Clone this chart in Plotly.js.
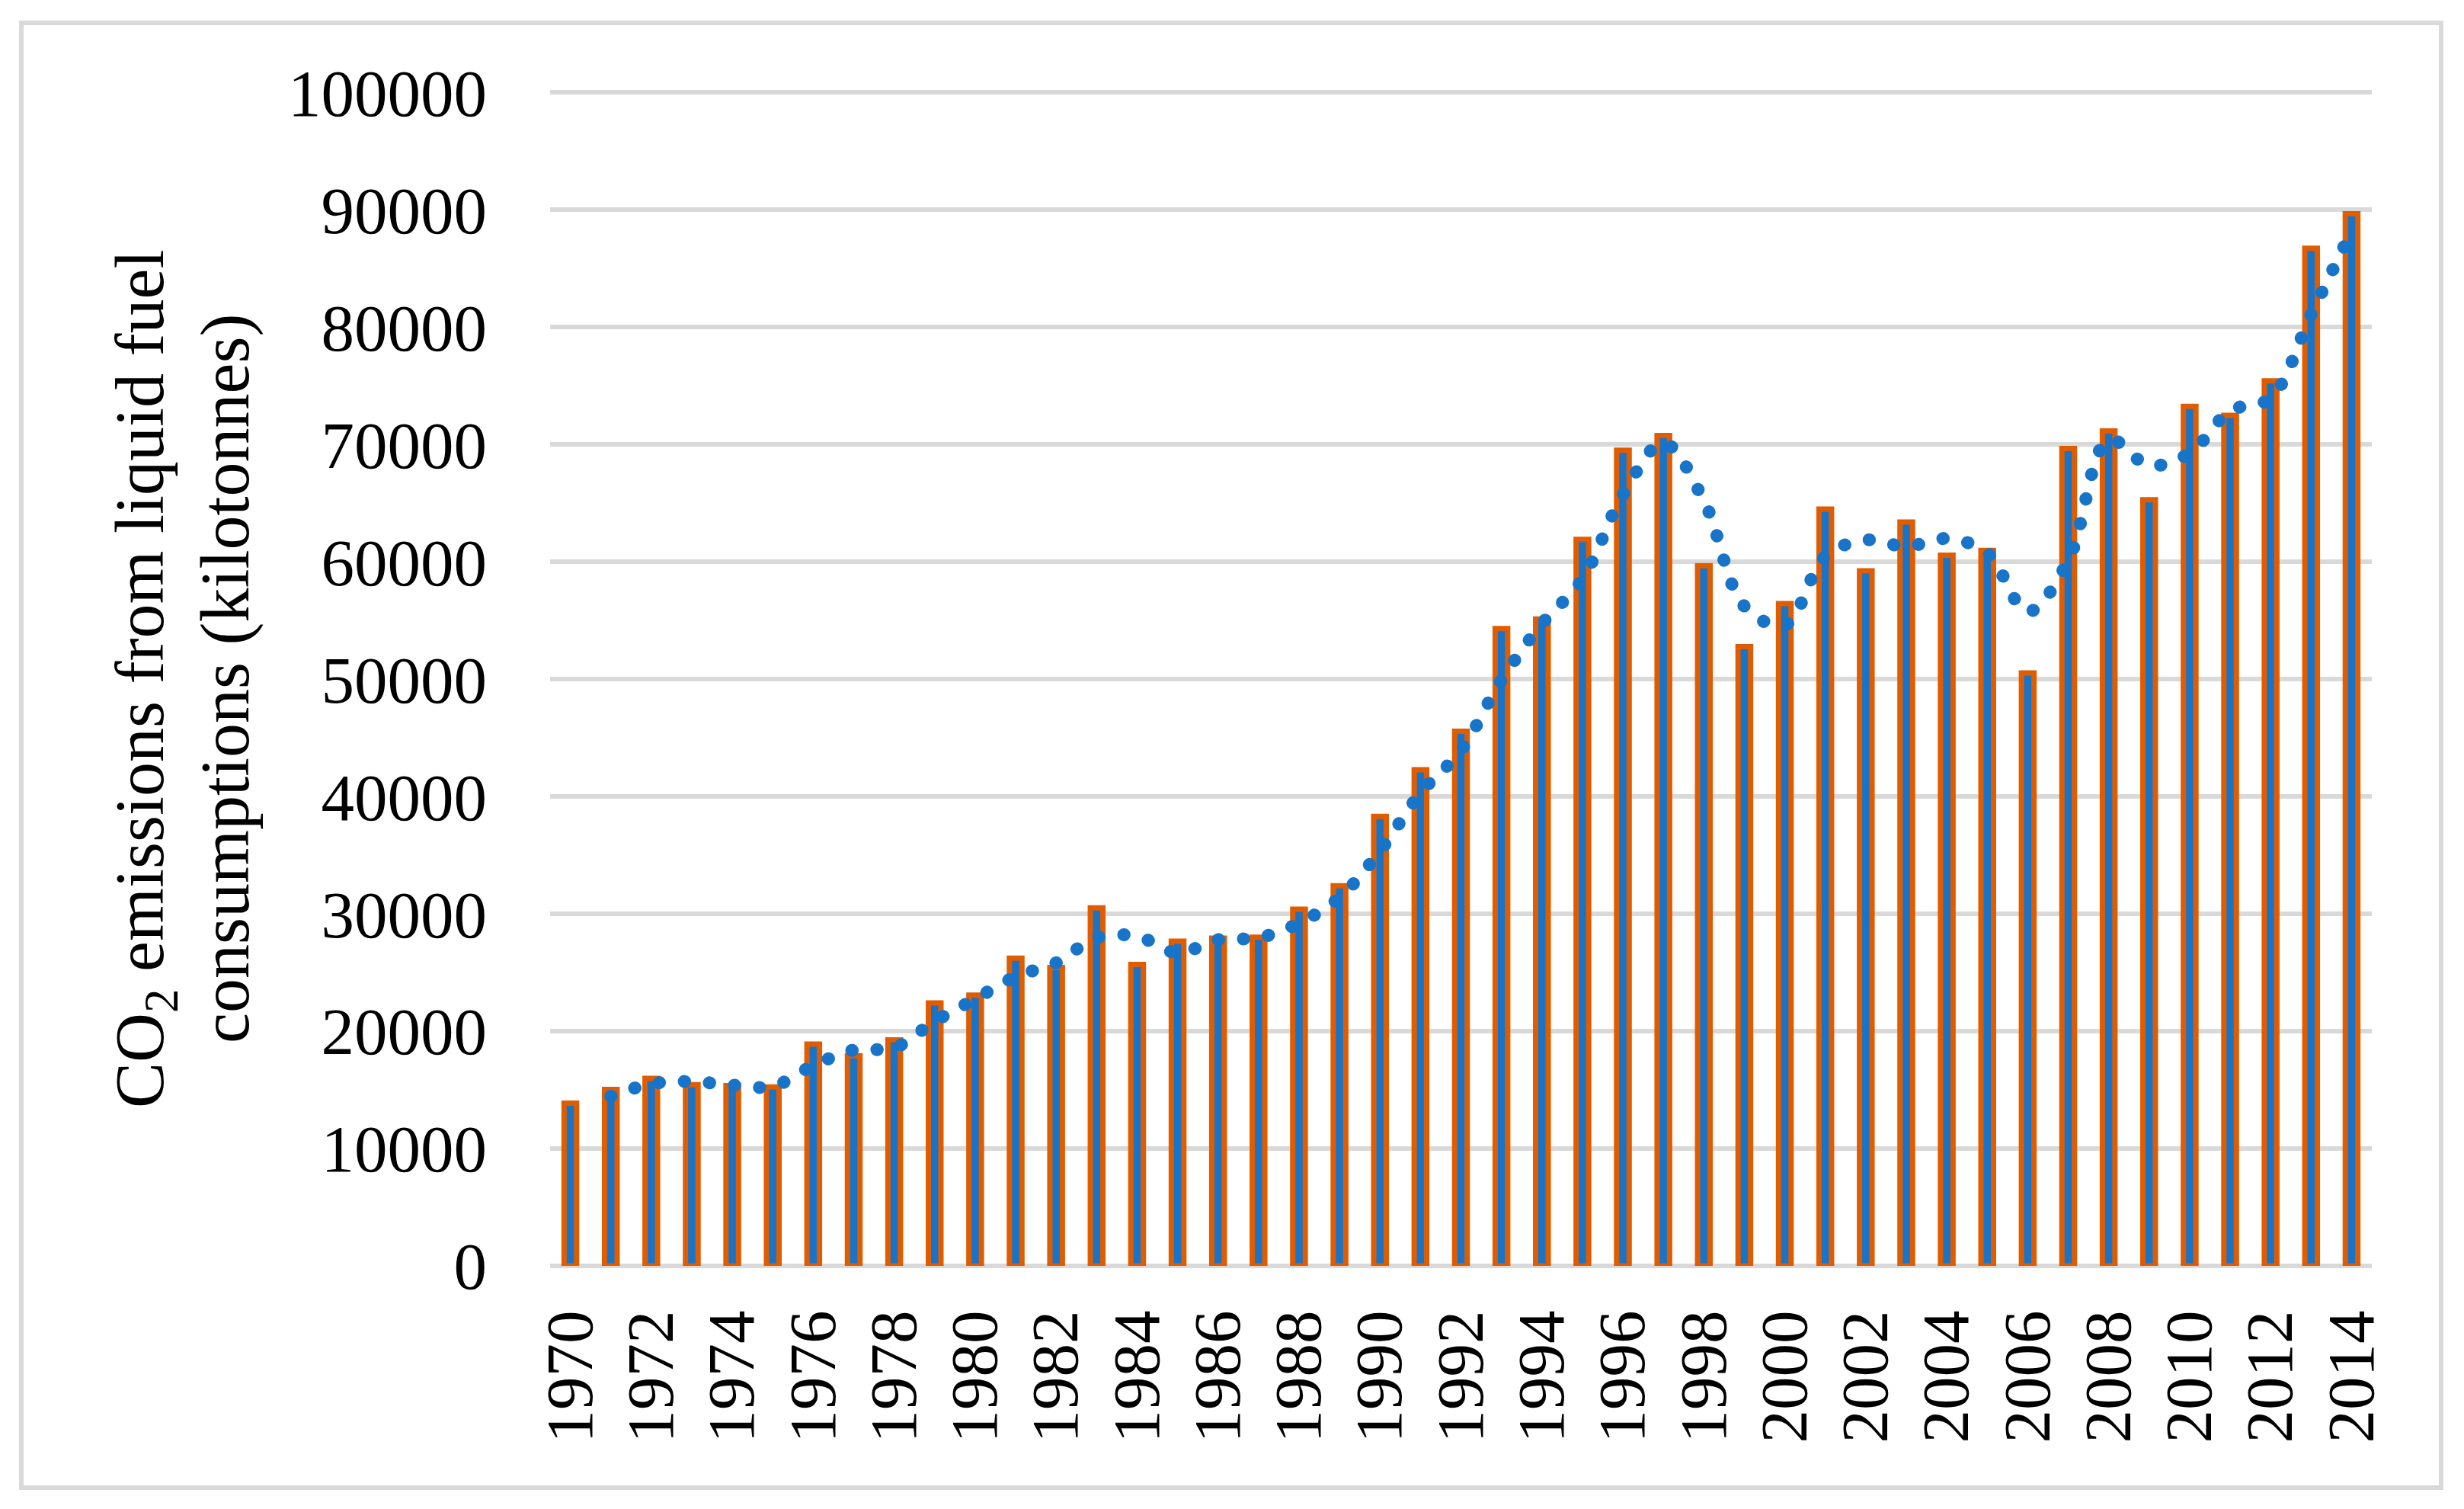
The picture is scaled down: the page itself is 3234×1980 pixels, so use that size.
<!DOCTYPE html>
<html>
<head>
<meta charset="utf-8">
<script src="https://cdn.plot.ly/plotly-3.0.1.min.js"></script>
<style>
  html, body { margin: 0; padding: 0; background: #ffffff; }
  #chart { width: 3234px; height: 1980px; }
  .js-line { stroke-linecap: round !important; }
</style>
</head>
<body>
<div id="chart"></div>
<script>
// Years (categories)
const years = [1970,1971,1972,1973,1974,1975,1976,1977,1978,1979,
               1980,1981,1982,1983,1984,1985,1986,1987,1988,1989,
               1990,1991,1992,1993,1994,1995,1996,1997,1998,1999,
               2000,2001,2002,2003,2004,2005,2006,2007,2008,2009,
               2010,2011,2012,2013,2014];

// CO2 emissions from liquid fuel consumption (kt)
const emissions = [13870,15040,15980,15440,15360,15240,18890,17900,19260,22400,
                   23070,26220,25420,30500,25680,27670,27920,28000,30400,32390,
                   38300,42280,45550,54300,55120,61900,69500,70750,59670,52760,
                   56440,64490,59220,63390,60560,60960,50530,69650,71140,65280,
                   73230,72480,75420,86710,89650];

// Dotted trend line (2-period moving average), starts 1971
const trendYears = [1971,1972,1973,1974,1975,1976,1977,1978,1979,
                    1980,1981,1982,1983,1984,1985,1986,1987,1988,1989,
                    1990,1991,1992,1993,1994,1995,1996,1997,1998,1999,
                    2000,2001,2002,2003,2004,2005,2006,2007,2008,2009,
                    2010,2011,2012,2013,2014];
const trendValues = [14455,15510,15710,15400,15300,17065,18395,18580,20830,
                     22735,24645,25820,27960,28090,26675,27795,27960,29200,31395,
                     35345,40290,43915,49925,54710,58510,65700,70125,65210,56215,
                     54600,60465,61855,61305,61975,60760,55745,60090,70395,68210,
                     69255,72855,73950,81065,88180];

const yTickVals = [0,10000,20000,30000,40000,50000,60000,70000,80000,90000,100000];
const yTitleLines = ['CO<sub>2</sub> emissions from liquid fuel', 'consumptions (kilotonnes)'];

const W = 3234, H = 1980;
const M = { l: 722, r: 121, t: 115, b: 319 };
const pw = W - M.l - M.r, ph = H - M.t - M.b;
// frame around the whole chart, in pixels
const frame = { x0: 28, x1: 3204, y0: 30, y1: 1952 };
// y title line centres, in pixels from the left edge
const titleX = [190, 296];
const titleY = 891;

const FONT = '"Liberation Serif", "Times New Roman", serif';
const px2paperX = p => (p - M.l) / pw;
const px2paperY = p => (H - M.b - p) / ph;

const bars = {
  type: 'bar',
  x: years,
  y: emissions,
  width: 0.31,
  marker: { color: '#1874C9', line: { color: '#E05C00', width: 7 } },
  hoverinfo: 'x+y',
  showlegend: false
};

const trend = {
  type: 'scatter',
  mode: 'lines',
  x: trendYears,
  y: trendValues,
  line: { color: '#1874C9', width: 17, dash: '0.5px,32.5px', shape: 'spline', smoothing: 1 },
  hoverinfo: 'skip',
  showlegend: false
};

const layout = {
  width: W,
  height: H,
  margin: M,
  paper_bgcolor: '#ffffff',
  plot_bgcolor: '#ffffff',
  font: { family: FONT, color: '#000000', size: 87 },
  showlegend: false,
  xaxis: {
    type: 'linear',
    range: [1969.5, 2014.5],
    tick0: 1970,
    dtick: 2,
    tickangle: -90,
    showgrid: false,
    zeroline: false,
    showline: false,
    ticks: '',
    ticklabelstandoff: 40,
    tickfont: { family: FONT, size: 87, color: '#000000' },
    automargin: false,
    fixedrange: true
  },
  yaxis: {
    range: [0, 100400],
    tickmode: 'array',
    tickvals: yTickVals,
    ticktext: yTickVals.map(String),
    showgrid: true,
    gridcolor: '#D9D9D9',
    gridwidth: 6.5,
    zeroline: true,
    zerolinecolor: '#D9D9D9',
    zerolinewidth: 6.5,
    showline: false,
    ticks: '',
    ticklabelstandoff: 82,
    tickfont: { family: FONT, size: 87, color: '#000000' },
    automargin: false,
    fixedrange: true
  },
  annotations: yTitleLines.map((t, i) => ({
    text: t,
    xref: 'paper', yref: 'paper',
    x: px2paperX(titleX[i]),
    y: px2paperY(titleY),
    xanchor: 'center', yanchor: 'middle',
    textangle: -90,
    showarrow: false,
    font: { family: FONT, size: 90, color: '#000000' }
  })),
  shapes: [{
    type: 'rect',
    xref: 'paper', yref: 'paper',
    x0: px2paperX(frame.x0),
    x1: px2paperX(frame.x1),
    y0: px2paperY(frame.y1),
    y1: px2paperY(frame.y0),
    line: { color: '#D9D9D9', width: 6 },
    fillcolor: 'rgba(0,0,0,0)',
    layer: 'below'
  }],
  bargap: 0.7
};

Plotly.newPlot('chart', [bars, trend], layout, { displayModeBar: false, staticPlot: true });
</script>
</body>
</html>
